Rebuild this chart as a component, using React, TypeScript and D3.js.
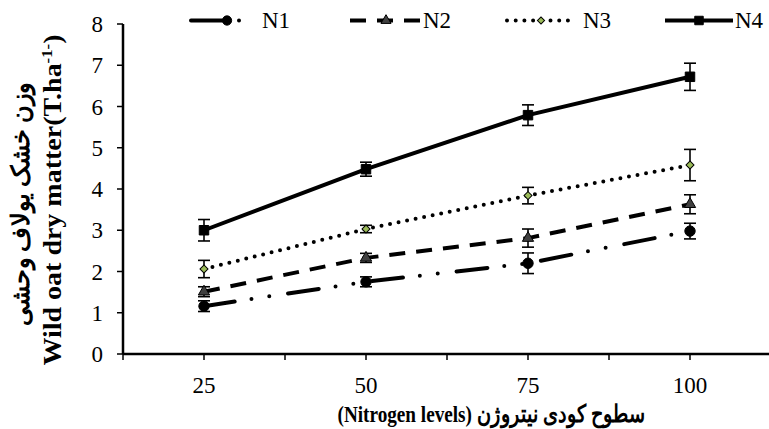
import * as d3 from "d3";
import { useEffect, useRef } from "react";

const chartWidth = 769;
const chartHeight = 429;

// nitrogen levels on the x axis
const levels = [25, 50, 75, 100];
const tickStops = [12.5, 25, 37.5, 50, 62.5, 75, 87.5, 100, 112.5];
const yTicks = [0, 1, 2, 3, 4, 5, 6, 7, 8];

const seriesNames = ["N1", "N2", "N3", "N4"];
const n1 = [1.16, 1.75, 2.2, 2.98];
const n1Err = [0.13, 0.12, 0.25, 0.19];
const n2 = [1.51, 2.33, 2.81, 3.63];
const n2Err = [0.12, 0.11, 0.22, 0.23];
const n3 = [2.06, 3.03, 3.84, 4.58];
const n3Err = [0.21, 0.09, 0.2, 0.38];
const n4 = [3.0, 4.48, 5.79, 6.72];
const n4Err = [0.26, 0.17, 0.25, 0.33];

const yTitleFa = "وزن خشک یولاف وحشی";
const yTitleEn = "Wild oat dry matter(T.ha";
const xTitle = "(Nitrogen levels) سطوح کودی نیتروژن";

const lineStyles = {
  N1: { dash: "31 17 0 18 0 19", cap: "round", symbol: d3.symbolCircle, size: 85, rotate: 0, fill: "#000" },
  N2: { dash: "16 11", cap: "butt", symbol: d3.symbolTriangle, size: 55, rotate: 0, fill: "#404040" },
  N3: { dash: "0 8.7", cap: "round", symbol: d3.symbolSquare, size: 32, rotate: 45, fill: "#9bbb59" },
  N4: { dash: null, cap: "butt", symbol: d3.symbolSquare, size: 90, rotate: 0, fill: "#000" },
};

// legend sample start / end / marker / text x
const legendSpots = [
  { x0: 191, x1: 250, mx: 227, tx: 262 },
  { x0: 350, x1: 420, mx: 386, tx: 423 },
  { x0: 507, x1: 575, mx: 541, tx: 583 },
  { x0: 665, x1: 733, mx: 699, tx: 735 },
];

const FONT = "Liberation Serif, Times New Roman, Times, serif";

const App = () => {
  const svgRef = useRef(null);

  useEffect(() => {
    const svg = d3.select(svgRef.current);
    svg.selectAll("*").remove();

    const series = seriesNames.map((name, i) => {
      const vals = [n1, n2, n3, n4][i];
      const errs = [n1Err, n2Err, n3Err, n4Err][i];
      return {
        name,
        style: lineStyles[name],
        points: levels.map((lv, j) => ({ x: lv, y: vals[j], e: errs[j] })),
      };
    });

    const x = d3.scaleLinear().domain([12.5, 112.5]).range([123, 771]);
    const y = d3.scaleLinear().domain([0, 8]).range([354, 24]);

    // axes
    svg
      .append("line")
      .attr("x1", x(12.5))
      .attr("x2", x(112.5))
      .attr("y1", y(0))
      .attr("y2", y(0))
      .attr("stroke", "#000")
      .attr("stroke-width", 2.5);
    svg
      .append("line")
      .attr("x1", x(12.5))
      .attr("x2", x(12.5))
      .attr("y1", y(0))
      .attr("y2", y(8))
      .attr("stroke", "#000")
      .attr("stroke-width", 2.5);

    svg
      .selectAll(".xtick")
      .data(tickStops)
      .join("line")
      .attr("class", "xtick")
      .attr("x1", (d) => x(d))
      .attr("x2", (d) => x(d))
      .attr("y1", y(0))
      .attr("y2", y(0) + 6)
      .attr("stroke", "#000")
      .attr("stroke-width", 1.5);

    svg
      .selectAll(".ytick")
      .data(yTicks)
      .join("line")
      .attr("class", "ytick")
      .attr("x1", x(12.5) - 6)
      .attr("x2", x(12.5))
      .attr("y1", (d) => y(d))
      .attr("y2", (d) => y(d))
      .attr("stroke", "#000")
      .attr("stroke-width", 1.5);

    svg
      .selectAll(".ylab")
      .data(yTicks)
      .join("text")
      .attr("class", "ylab")
      .attr("x", 103)
      .attr("y", (d) => y(d) + 8)
      .attr("text-anchor", "end")
      .style("font-family", FONT)
      .attr("font-size", 23)
      .text((d) => d);

    svg
      .selectAll(".xlab")
      .data(levels)
      .join("text")
      .attr("class", "xlab")
      .attr("x", (d) => x(d))
      .attr("y", 393)
      .attr("text-anchor", "middle")
      .style("font-family", FONT)
      .attr("font-size", 23)
      .text((d) => d);

    // titles
    svg
      .append("text")
      .attr("transform", "translate(491, 422) scale(0.8, 1)")
      .attr("text-anchor", "middle")
      .style("font-family", FONT)
      .attr("font-weight", "bold")
      .attr("font-size", 24)
      .text(xTitle);

    svg
      .append("text")
      .attr("transform", "translate(29, 204) rotate(-90) scale(0.96, 1)")
      .attr("text-anchor", "middle")
      .style("font-family", FONT)
      .attr("font-weight", "bold")
      .attr("font-size", 25)
      .text(yTitleFa);

    const en = svg
      .append("text")
      .attr("transform", "translate(61, 200) rotate(-90) scale(1.12, 1)")
      .attr("text-anchor", "middle")
      .style("font-family", FONT)
      .attr("font-weight", "bold")
      .attr("font-size", 25);
    en.append("tspan").text(yTitleEn);
    en.append("tspan").attr("dy", -9).attr("font-size", 15).text("-1-");
    en.append("tspan").attr("dy", 9).text(")");

    const line = d3
      .line()
      .x((d) => x(d.x))
      .y((d) => y(d.y));

    const g = svg.append("g");

    g.selectAll(".series")
      .data(series)
      .join("path")
      .attr("class", "series")
      .attr("d", (d) => line(d.points))
      .attr("fill", "none")
      .attr("stroke", "#000")
      .attr("stroke-width", 4)
      .attr("stroke-linecap", (d) => d.style.cap)
      .attr("stroke-dasharray", (d) => d.style.dash);

    // error bars
    const bars = g
      .selectAll(".err")
      .data(series.flatMap((s) => s.points))
      .join("g")
      .attr("class", "err")
      .attr("stroke", "#000")
      .attr("stroke-width", 1.6);
    bars
      .append("line")
      .attr("x1", (d) => x(d.x))
      .attr("x2", (d) => x(d.x))
      .attr("y1", (d) => y(d.y - d.e))
      .attr("y2", (d) => y(d.y + d.e));
    bars
      .append("line")
      .attr("x1", (d) => x(d.x) - 6)
      .attr("x2", (d) => x(d.x) + 6)
      .attr("y1", (d) => y(d.y - d.e))
      .attr("y2", (d) => y(d.y - d.e));
    bars
      .append("line")
      .attr("x1", (d) => x(d.x) - 6)
      .attr("x2", (d) => x(d.x) + 6)
      .attr("y1", (d) => y(d.y + d.e))
      .attr("y2", (d) => y(d.y + d.e));

    series.forEach((s) => {
      const sym = d3.symbol().type(s.style.symbol).size(s.style.size);
      g.selectAll(`.mk-${s.name}`)
        .data(s.points)
        .join("path")
        .attr("class", `mk-${s.name}`)
        .attr("d", sym)
        .attr(
          "transform",
          (d) => `translate(${x(d.x)},${y(d.y)}) rotate(${s.style.rotate})`
        )
        .attr("fill", s.style.fill)
        .attr("stroke", "#000")
        .attr("stroke-width", 1);
    });

    // legend
    const legendY = 20.5;
    const leg = svg
      .selectAll(".leg")
      .data(series)
      .join("g")
      .attr("class", "leg");
    leg
      .append("line")
      .attr("x1", (d, i) => legendSpots[i].x0)
      .attr("x2", (d, i) => legendSpots[i].x1)
      .attr("y1", legendY)
      .attr("y2", legendY)
      .attr("stroke", "#000")
      .attr("stroke-width", 4)
      .attr("stroke-linecap", (d) => d.style.cap)
      .attr("stroke-dasharray", (d) => d.style.dash);
    leg
      .append("path")
      .attr("d", (d) => d3.symbol().type(d.style.symbol).size(d.style.size * 0.8)())
      .attr(
        "transform",
        (d, i) => `translate(${legendSpots[i].mx},${legendY}) rotate(${d.style.rotate})`
      )
      .attr("fill", (d) => d.style.fill)
      .attr("stroke", "#000")
      .attr("stroke-width", 1);
    leg
      .append("text")
      .attr("x", (d, i) => legendSpots[i].tx)
      .attr("y", 28)
      .style("font-family", FONT)
      .attr("font-size", 23)
      .text((d) => d.name);
  }, []);

  return (
    <svg
      ref={svgRef}
      width={chartWidth}
      height={chartHeight}
      style={{ position: "absolute", left: 0, top: 0, background: "#fff" }}
    />
  );
};

export default App;
